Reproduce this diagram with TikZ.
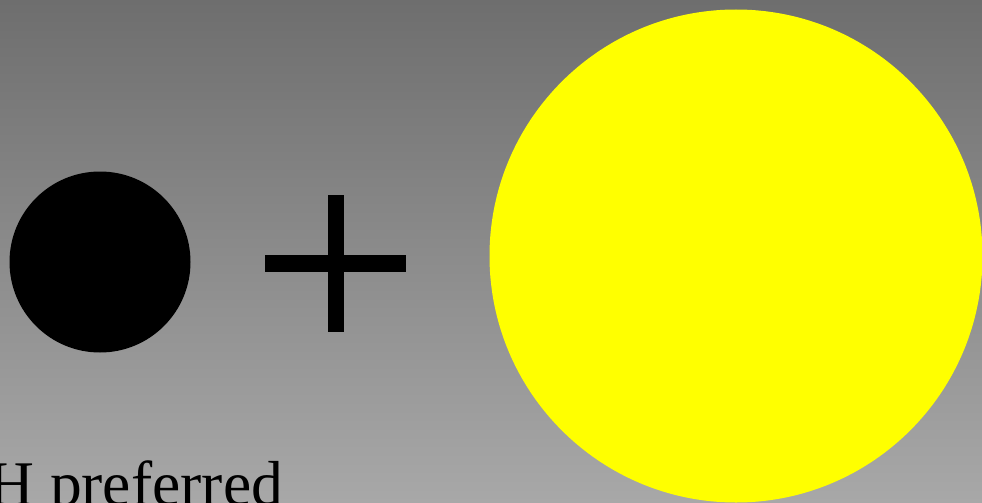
\documentclass[tikz,border=0pt]{standalone}
\usepackage{fontspec}
\setmainfont{Liberation Serif}
\begin{document}
\begin{tikzpicture}[x=1pt,y=-1pt,
  bar/.style={fill=black,draw=none},
  ball/.style={circle,inner sep=0pt,draw=none}]
\useasboundingbox (0,0) rectangle (982,503);
\clip (0,0) rectangle (982,503);
\shade[top color={rgb,255:red,110;green,110;blue,110},bottom color={rgb,255:red,168;green,168;blue,168}] (0,0) rectangle (982,503);
\node[ball,fill=black,minimum size=181pt] (dot) at (100,262) {};
\fill[bar] (265,255) rectangle (406,272);
\fill[bar] (328,195) rectangle (344,332);
\node[ball,fill={rgb,255:red,255;green,255;blue,0},minimum size=493pt] (sun) at (736,256) {};
\node[anchor=base west,inner sep=0pt,font=\fontsize{63.6}{70}\selectfont] (label) at (-12,505) {H preferred};
\end{tikzpicture}
\end{document}
